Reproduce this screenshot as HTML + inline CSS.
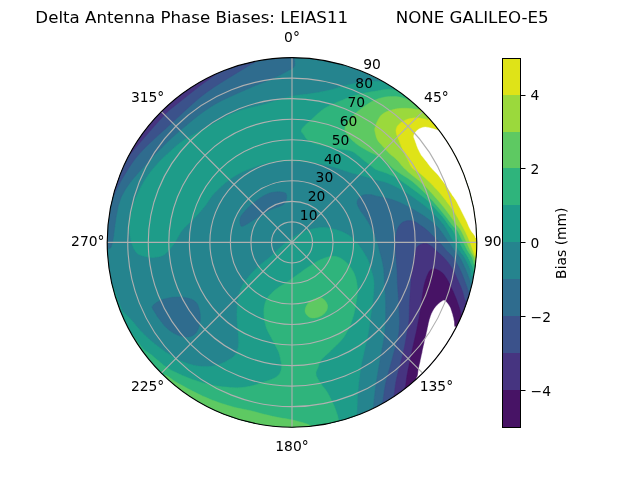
<!DOCTYPE html>
<html><head><meta charset="utf-8"><title>Delta Antenna Phase Biases</title>
<style>html,body{margin:0;padding:0;background:#fff}body{width:640px;height:480px;overflow:hidden}</style></head>
<body>
<svg width="640" height="480" viewBox="0 0 640 480" style="display:block">
<defs><clipPath id="c"><circle cx="292" cy="242.4" r="184.8"/></clipPath></defs>
<rect width="640" height="480" fill="#fff"/>
<g clip-path="url(#c)">
<rect x="100" y="50" width="390" height="390" fill="#25848e"/>
<path d="M145.0 256.5L143.4 256.1L141.9 255.7L140.5 255.3L139.2 254.7L138.0 254.0L137.0 253.2L136.1 252.3L135.3 251.2L134.7 250.1L134.0 249.0L133.4 247.9L132.9 246.7L132.4 245.5L131.9 244.1L131.5 242.5L131.0 240.7L130.6 238.7L130.2 236.5L129.8 234.3L129.5 232.0L129.2 229.7L128.9 227.5L128.6 225.1L128.6 222.4L128.9 219.5L129.6 216.1L130.6 212.3L131.8 208.3L133.2 204.3L134.7 200.3L136.5 196.2L138.4 192.0L140.5 187.8L142.7 183.8L144.9 180.0L147.2 176.5L149.5 173.3L151.9 170.2L154.3 167.3L156.9 164.4L159.5 161.5L162.3 158.7L165.1 156.0L167.9 153.5L170.6 151.0L173.3 148.6L175.9 146.3L178.5 144.1L181.2 142.0L184.0 139.9L186.7 138.2L189.3 136.7L192.1 135.2L195.5 133.4L200.0 131.0L205.9 127.7L213.0 123.8L220.7 119.6L228.2 115.6L235.0 112.5L241.1 110.2L247.0 108.5L252.6 107.2L257.6 106.1L262.0 105.0L265.4 104.0L268.0 103.2L270.1 102.5L272.3 101.8L275.0 101.0L278.2 100.0L281.7 98.9L285.3 97.8L288.9 96.8L292.5 96.0L296.0 95.4L299.4 95.0L302.8 94.6L306.3 94.3L310.0 93.8L314.0 93.1L318.2 92.4L322.4 91.6L326.4 90.8L330.0 90.0L332.9 89.2L335.3 88.5L337.5 87.8L339.8 87.0L342.5 86.2L345.7 85.5L349.1 84.6L352.8 83.8L356.4 83.1L360.0 82.5L363.5 82.0L367.1 81.6L370.7 81.3L374.2 81.2L377.5 81.2L380.6 81.6L383.7 82.1L386.6 82.8L389.4 83.6L392.0 84.5L394.4 85.4L396.7 86.4L398.8 87.5L400.9 88.7L403.0 90.0L405.1 91.7L407.3 93.8L409.4 95.9L411.4 97.3L413.4 97.7L415.3 96.3L417.0 93.5L418.7 90.3L420.6 87.7L422.7 86.7L425.1 87.6L427.7 89.8L430.5 92.8L433.3 96.0L436.0 98.9L438.5 101.5L441.0 104.1L443.4 106.8L445.8 109.5L448.1 112.2L450.4 115.0L452.7 117.9L454.9 120.7L457.0 123.6L459.1 126.6L461.1 129.6L463.1 132.6L465.0 135.7L466.9 138.8L468.7 141.9L470.4 145.0L472.1 148.2L473.8 151.4L475.4 154.7L476.9 158.0L478.4 161.3L479.8 164.6L481.1 167.9L482.4 171.3L483.7 174.7L484.8 178.1L486.0 181.5L487.0 185.0L488.0 188.5L488.9 192.0L489.8 195.5L490.6 199.0L491.3 202.5L492.0 206.1L492.6 209.6L493.2 213.2L493.7 216.8L494.1 220.4L494.4 224.0L494.7 227.6L495.0 231.2L495.1 234.8L495.2 238.4L495.3 242.0L495.3 245.6L495.4 249.5L495.6 253.8L495.6 257.8L495.3 261.3L494.2 263.6L492.0 264.3L489.1 263.7L485.7 262.6L482.5 261.8L479.9 262.1L477.8 264.3L476.1 267.7L474.6 271.4L473.3 274.6L472.2 276.2L471.5 276.2L471.1 275.0L470.9 273.1L470.6 270.8L470.0 268.8L469.1 266.7L468.0 264.3L466.8 261.9L465.6 259.6L464.4 257.5L463.3 255.8L462.2 254.4L461.1 253.0L459.9 251.6L458.8 250.0L457.5 248.2L456.3 246.2L455.0 244.1L453.7 242.0L452.5 240.0L451.3 238.0L450.2 235.9L449.0 233.8L447.9 231.8L446.9 230.0L446.0 228.4L445.1 227.0L444.3 225.7L443.3 224.4L442.2 223.0L441.0 221.5L439.5 219.8L438.0 218.2L436.4 216.5L434.8 214.9L433.1 213.3L431.4 211.6L429.6 210.0L427.9 208.3L426.0 206.8L424.1 205.2L422.1 203.7L420.1 202.2L418.0 200.7L416.0 199.2L414.0 197.8L412.0 196.4L410.0 195.0L408.0 193.7L406.0 192.4L404.0 191.2L402.0 190.0L400.0 188.9L398.0 187.8L396.0 186.8L394.0 185.8L392.0 184.8L390.0 183.9L388.0 183.1L386.0 182.4L384.0 181.8L382.1 181.3L380.2 180.9L378.2 180.5L376.0 179.9L373.6 179.2L371.0 178.4L368.3 177.6L365.6 176.8L363.0 176.0L360.5 175.3L358.1 174.7L355.7 174.1L353.0 173.4L350.0 172.5L346.4 171.3L342.5 170.0L338.3 168.5L334.1 167.2L330.0 166.0L326.0 165.1L321.9 164.3L317.9 163.6L313.9 163.0L310.0 162.5L306.3 162.1L302.8 161.7L299.4 161.5L295.8 161.3L292.0 161.2L287.8 161.3L283.4 161.3L278.8 161.5L274.3 161.9L270.0 162.5L265.8 163.4L261.7 164.5L257.7 165.8L253.8 167.3L250.0 168.8L246.3 170.2L242.8 171.8L239.4 173.4L236.0 175.3L232.5 177.5L228.9 180.1L225.1 183.1L221.5 186.3L218.0 189.5L215.0 192.5L212.5 195.3L210.5 198.1L208.6 200.8L206.9 203.5L205.0 206.0L203.0 208.4L201.1 210.7L199.2 212.9L197.2 215.2L195.0 217.5L192.6 219.9L189.9 222.4L187.3 225.0L184.7 227.5L182.5 230.0L180.6 232.6L179.0 235.4L177.5 238.0L176.2 240.5L175.0 242.5L174.1 243.9L173.4 244.9L172.8 245.7L172.2 246.5L171.2 247.5L170.0 248.9L168.6 250.6L167.1 252.2L165.5 253.8L163.8 255.0L161.9 255.9L159.9 256.5L157.8 257.0L155.7 257.3L153.8 257.5L151.9 257.5L150.1 257.4L148.3 257.2L146.6 256.9Z" fill="#1e9c89" stroke="#1e9c89" stroke-width="0.4"/>
<path d="M292.5 237.5L295.0 236.0L297.4 234.6L299.8 233.4L302.3 232.3L305.0 231.2L307.9 230.3L310.9 229.3L314.1 228.5L317.1 227.9L320.0 227.5L322.7 227.4L325.2 227.5L327.7 227.8L330.1 228.3L332.5 228.8L334.9 229.3L337.2 230.0L339.5 230.8L341.7 231.6L343.8 232.5L345.7 233.5L347.6 234.5L349.3 235.6L350.9 236.8L352.5 238.0L353.9 239.3L355.2 240.7L356.5 242.1L357.6 243.5L358.8 245.0L359.8 246.5L360.9 248.0L361.9 249.5L362.8 251.0L363.8 252.5L364.7 254.0L365.6 255.4L366.4 256.8L367.2 258.3L368.0 260.0L368.7 261.8L369.4 263.7L370.0 265.7L370.6 267.8L371.2 270.0L371.9 272.3L372.6 274.6L373.2 277.0L373.7 279.6L374.0 282.5L374.1 285.7L373.9 289.1L373.7 292.8L373.4 296.4L373.0 300.0L372.6 303.5L372.1 307.0L371.6 310.5L371.0 314.0L370.5 317.5L370.0 321.0L369.6 324.5L369.1 328.0L368.6 331.5L368.0 335.0L367.3 338.5L366.5 342.0L365.6 345.5L364.8 349.0L364.0 352.5L363.3 355.9L362.5 359.3L361.8 362.7L361.1 366.3L360.5 370.0L359.9 374.0L359.4 378.2L358.8 382.6L358.4 386.9L358.0 391.0L357.7 395.1L357.4 399.3L357.3 403.4L357.1 407.0L357.0 410.0L356.9 412.1L356.8 413.4L356.7 414.4L356.8 415.4L357.0 417.0L357.7 419.2L358.9 421.8L360.1 424.5L360.6 427.2L360.1 429.6L358.3 431.7L355.4 433.7L351.9 435.6L348.2 437.3L344.6 438.8L341.2 439.9L337.6 440.8L334.0 441.5L330.4 442.1L326.7 442.7L323.1 443.3L319.5 443.8L315.8 444.3L312.2 444.7L308.5 445.0L304.9 445.3L301.2 445.5L297.6 445.6L293.9 445.7L290.2 445.7L286.6 445.6L282.9 445.5L279.2 445.3L275.6 445.0L271.9 444.7L268.3 444.3L264.6 443.8L261.0 443.3L257.4 442.7L253.8 442.1L250.2 441.3L246.6 440.5L243.1 439.7L239.5 438.8L236.0 437.8L232.5 436.8L229.0 435.7L225.5 434.5L222.0 433.3L218.6 432.0L215.2 430.6L211.8 429.2L208.5 427.7L205.1 426.2L201.8 424.6L198.6 422.9L195.3 421.2L192.1 419.4L188.9 417.6L185.8 415.7L182.7 413.8L179.6 411.8L176.6 409.7L173.6 407.6L170.6 405.5L167.7 403.2L164.8 401.0L162.0 398.7L159.2 396.3L156.4 393.9L153.7 391.4L151.0 388.9L148.4 386.3L145.9 383.7L143.3 381.0L140.9 378.3L138.4 375.6L136.1 372.8L133.7 370.0L131.4 367.1L129.2 364.2L127.1 361.2L124.9 358.2L122.9 355.2L120.9 352.1L118.9 349.0L117.0 345.9L115.2 342.7L113.4 339.5L111.7 336.3L110.0 333.0L108.4 329.7L106.9 326.4L105.4 323.0L104.0 319.6L102.6 316.2L101.3 312.8L100.1 309.4L98.9 305.9L97.8 302.4L96.4 298.7L94.9 294.8L93.5 291.0L92.8 287.5L93.2 284.7L95.0 282.1L98.1 279.6L101.7 277.7L105.4 277.0L108.6 278.1L111.3 281.8L113.9 287.8L116.4 294.7L118.6 301.3L120.3 306.0L121.4 308.6L121.9 309.9L122.2 310.5L122.6 311.0L123.4 311.9L124.7 313.3L126.2 314.8L127.9 316.4L129.6 318.0L131.2 319.7L132.8 321.5L134.3 323.3L135.8 325.2L137.3 327.1L139.0 329.0L140.7 330.9L142.6 332.8L144.4 334.7L146.4 336.5L148.4 338.4L150.5 340.3L152.7 342.1L154.9 344.0L157.2 345.8L159.4 347.5L161.6 349.1L163.8 350.7L165.9 352.2L168.1 353.6L170.3 355.0L172.5 356.3L174.6 357.6L176.8 358.8L179.0 359.9L181.2 361.0L183.7 362.0L186.1 362.9L188.7 363.8L191.2 364.6L193.8 365.2L196.3 365.7L198.8 366.1L201.4 366.4L203.8 366.6L206.2 366.6L208.6 366.5L210.8 366.3L213.0 366.0L215.1 365.5L217.2 365.0L219.2 364.4L221.1 363.6L223.0 362.8L224.8 361.9L226.6 361.0L228.3 360.0L230.0 359.1L231.7 358.0L233.1 356.9L234.4 355.6L235.4 354.2L236.3 352.7L237.0 351.2L237.5 349.5L238.0 347.8L238.3 346.1L238.5 344.4L238.6 342.6L238.6 340.5L238.5 338.0L238.3 334.9L237.9 331.4L237.6 327.6L237.2 323.7L237.0 320.0L236.9 316.4L236.9 312.8L237.0 309.3L237.2 305.8L237.5 302.5L238.0 299.3L238.5 296.2L239.2 293.2L240.1 290.3L241.2 287.5L242.7 284.8L244.3 282.2L246.2 279.7L248.1 277.3L250.0 275.0L251.9 272.8L253.9 270.7L255.9 268.7L258.0 266.8L260.0 265.0L262.0 263.3L264.0 261.7L266.0 260.2L268.0 258.7L270.0 257.0L272.0 255.2L273.9 253.3L275.8 251.4L277.8 249.5L280.0 247.5L282.3 245.5L284.8 243.4L287.4 241.3L290.0 239.3Z" fill="#1e9c89" stroke="#1e9c89" stroke-width="0.4"/>
<path d="M103.4 252.3L105.0 251.8L106.1 251.2L106.9 250.5L107.5 249.7L108.3 248.8L109.2 248.3L109.9 248.3L110.6 247.9L111.4 246.2L112.5 242.4L113.7 235.6L114.8 226.5L116.3 216.2L118.3 205.9L121.4 196.7L125.8 188.7L131.3 181.1L137.3 173.9L143.6 167.0L149.7 160.3L155.7 153.8L161.7 147.7L167.7 141.8L173.9 136.1L180.2 130.6L186.5 125.2L192.9 119.9L199.4 114.8L206.1 110.0L212.9 105.5L220.6 101.2L229.0 97.2L237.3 93.5L244.7 90.2L250.5 87.7L254.2 86.1L256.1 85.2L257.2 84.9L258.2 84.5L260.0 83.8L262.6 82.7L265.6 81.5L268.7 80.2L271.8 78.9L274.7 77.6L277.5 76.3L280.2 74.9L282.9 73.6L285.4 72.2L287.5 71.0L289.4 70.0L291.1 69.2L292.5 68.3L293.7 67.3L294.5 65.8L294.8 63.9L294.7 61.5L294.4 58.9L294.0 56.2L293.6 53.5L293.6 50.5L293.8 47.2L293.9 43.9L293.4 41.1L292.0 39.1L289.4 38.3L285.9 38.3L281.8 38.8L277.6 39.4L273.7 39.9L270.0 40.3L266.4 40.7L262.8 41.2L259.1 41.8L255.5 42.4L251.9 43.1L248.3 43.9L244.8 44.7L241.2 45.6L237.7 46.5L234.2 47.5L230.6 48.6L227.2 49.7L223.7 50.9L220.3 52.2L216.8 53.5L213.4 54.9L210.1 56.4L206.7 57.9L203.4 59.4L200.1 61.1L196.9 62.7L193.7 64.5L190.5 66.3L187.3 68.2L184.2 70.1L181.1 72.0L178.0 74.1L175.0 76.2L172.0 78.3L169.1 80.5L166.2 82.7L163.3 85.0L160.5 87.4L157.7 89.8L155.0 92.2L152.3 94.7L149.7 97.2L147.1 99.8L144.5 102.5L142.0 105.2L139.6 107.9L137.2 110.7L134.8 113.5L132.5 116.3L130.3 119.2L128.1 122.2L126.0 125.1L123.9 128.1L121.8 131.2L119.9 134.3L117.9 137.4L116.1 140.6L114.3 143.7L112.5 147.0L110.8 150.2L109.2 153.5L107.6 156.8L106.1 160.2L104.6 163.5L103.3 166.9L101.9 170.3L100.7 173.8L99.5 177.2L98.3 180.7L97.2 184.2L96.2 187.7L95.3 191.3L94.4 194.8L93.5 198.4L92.8 202.0L92.1 205.6L91.4 209.2L90.9 212.8L90.4 216.5L89.9 220.1L89.6 223.7L89.3 227.4L89.0 231.1L88.9 234.7L88.6 238.7L88.1 243.0L87.8 247.1L88.0 250.6L89.0 253.0L91.1 254.2L94.2 254.2L97.6 253.7L100.9 252.9Z" fill="#2f6c8e" stroke="#2f6c8e" stroke-width="0.4"/>
<path d="M107.9 199.9L109.4 200.1L110.3 200.1L110.9 199.9L111.6 199.2L112.7 197.7L114.0 195.3L115.5 192.3L117.1 188.6L119.1 184.6L121.4 180.3L124.1 175.7L127.1 170.7L130.5 165.4L134.4 159.8L139.1 154.1L144.7 148.1L151.2 141.8L158.2 135.3L165.3 128.9L172.2 122.6L178.8 116.5L185.3 110.4L191.9 104.5L198.7 98.6L205.8 93.0L213.7 87.4L222.5 81.8L231.2 76.4L239.0 71.7L245.2 67.9L249.5 65.3L252.3 63.7L254.1 62.7L255.5 61.9L256.7 61.0L257.9 60.1L258.6 59.4L259.0 58.8L259.2 57.9L259.2 56.4L259.3 53.9L259.3 50.5L259.0 47.0L258.3 44.0L256.7 42.2L254.1 41.8L250.6 42.4L246.7 43.6L242.6 45.0L238.9 46.2L235.3 47.2L231.8 48.2L228.4 49.3L224.9 50.5L221.4 51.8L218.0 53.1L214.6 54.4L211.3 55.8L207.9 57.3L204.6 58.9L201.3 60.5L198.1 62.1L194.8 63.8L191.6 65.6L188.5 67.5L185.3 69.3L182.3 71.3L179.2 73.3L176.2 75.4L173.2 77.5L170.2 79.6L167.3 81.8L164.5 84.1L161.6 86.4L158.8 88.8L156.1 91.2L153.4 93.7L150.7 96.2L148.1 98.8L145.6 101.4L143.1 104.0L140.6 106.7L138.2 109.5L135.8 112.3L133.5 115.1L131.2 118.0L129.0 120.9L126.9 123.8L124.8 126.8L122.7 129.9L120.7 132.9L118.8 136.0L116.9 139.2L115.1 142.3L113.3 145.5L111.6 148.8L109.9 152.0L108.3 155.3L106.8 158.6L105.3 162.0L103.9 165.3L102.5 168.7L101.2 172.2L100.0 175.6L98.8 179.1L97.5 182.8L95.9 186.8L94.5 190.6L93.7 194.1L93.9 196.7L95.7 198.3L98.6 199.3L102.1 199.7L105.4 199.8Z" fill="#3b528b" stroke="#3b528b" stroke-width="0.4"/>
<path d="M123.7 156.6L125.1 157.1L125.9 157.4L126.6 157.4L127.4 156.8L128.8 155.6L130.7 153.8L132.9 151.3L135.3 148.3L138.2 144.8L141.5 140.9L145.6 136.2L150.5 130.6L155.6 124.7L160.5 119.3L164.5 114.9L167.4 112.0L169.4 110.1L171.2 108.7L173.4 107.0L176.4 104.6L180.7 101.2L185.8 97.1L191.3 92.7L196.6 88.6L201.1 85.0L205.1 82.1L208.8 79.6L212.0 77.3L214.8 75.3L216.8 73.6L218.1 72.3L218.7 71.5L218.8 70.8L218.6 69.9L218.2 68.5L217.7 66.1L216.9 62.8L215.9 59.5L214.5 56.7L212.6 55.3L210.0 55.4L206.9 56.8L203.4 58.8L199.9 61.0L196.6 62.9L193.4 64.6L190.4 66.4L187.3 68.2L184.3 70.0L181.3 71.9L178.3 73.9L175.4 75.9L172.5 77.9L169.7 80.1L166.8 82.2L164.1 84.4L161.3 86.7L158.6 89.0L156.0 91.3L153.4 93.7L150.8 96.2L148.3 98.7L145.8 101.2L143.3 103.8L140.9 106.4L138.6 109.0L136.3 111.7L134.0 114.5L131.8 117.3L129.7 120.1L127.5 122.9L125.5 125.8L123.5 128.7L121.5 131.7L119.6 134.7L117.4 137.9L115.0 141.2L112.8 144.5L111.2 147.6L110.9 150.1L112.2 152.1L114.8 153.7L118.1 155.0L121.3 156.0Z" fill="#463480" stroke="#463480" stroke-width="0.4"/>
<path d="M240.0 218.8L239.8 220.3L239.9 222.1L240.2 223.9L240.6 225.4L241.2 226.2L242.1 226.5L243.2 226.1L244.5 225.5L245.9 224.7L247.5 223.8L249.2 222.8L251.1 221.6L253.1 220.3L255.3 218.9L257.5 217.5L259.8 216.0L262.3 214.5L264.9 212.9L267.5 211.4L270.0 210.0L272.6 208.8L275.4 207.8L278.1 206.9L280.6 206.0L282.5 205.0L283.9 204.0L284.8 203.1L285.5 202.1L285.9 201.1L286.2 200.0L286.5 198.6L286.7 197.1L286.7 195.5L286.3 194.0L285.5 193.0L284.0 192.4L282.0 192.0L279.6 191.8L277.2 191.8L275.0 192.0L273.0 192.3L271.1 192.6L269.2 193.2L267.2 194.0L265.0 195.0L262.6 196.4L260.0 198.1L257.4 200.0L254.8 201.9L252.5 203.8L250.4 205.5L248.5 207.4L246.7 209.2L245.1 210.9L243.8 212.5L242.6 213.9L241.7 215.1L240.9 216.3L240.3 217.5Z" fill="#2f6c8e" stroke="#2f6c8e" stroke-width="0.4"/>
<path d="M152.5 306.2L153.4 304.9L155.0 303.6L156.8 302.3L159.0 301.0L161.2 300.0L163.7 299.1L166.5 298.4L169.3 297.8L172.2 297.3L175.0 297.0L177.6 296.9L180.3 296.9L182.8 297.2L185.3 297.5L187.5 298.0L189.6 298.6L191.5 299.3L193.3 300.1L194.9 301.2L196.2 302.5L197.4 304.1L198.3 306.1L199.0 308.2L199.6 310.4L200.0 312.5L200.3 314.5L200.4 316.5L200.4 318.5L200.3 320.5L200.0 322.5L199.6 324.6L198.9 326.8L198.2 328.9L197.3 330.9L196.2 332.5L195.1 333.9L193.7 335.0L192.2 335.9L190.6 336.6L188.8 337.0L186.7 337.1L184.5 336.9L182.1 336.4L179.7 335.8L177.5 335.0L175.4 334.1L173.3 332.9L171.3 331.6L169.3 330.2L167.5 328.8L165.8 327.1L164.2 325.4L162.7 323.5L161.3 321.7L160.0 320.0L158.8 318.4L157.7 316.9L156.7 315.4L155.8 313.9L155.0 312.5L154.2 311.2L153.3 309.9L152.6 308.7L152.2 307.5Z" fill="#2f6c8e" stroke="#2f6c8e" stroke-width="0.4"/>
<path d="M373.0 412.0L372.6 410.5L372.6 409.6L372.9 408.9L373.2 407.9L373.5 406.0L373.8 403.1L374.1 399.5L374.6 395.5L375.0 391.4L375.5 387.5L376.0 383.7L376.6 379.9L377.3 376.1L377.9 372.4L378.5 368.8L379.1 365.3L379.7 361.9L380.3 358.6L380.9 355.3L381.5 352.0L382.1 348.6L382.8 345.1L383.4 341.7L384.0 338.3L384.5 335.0L384.8 332.0L385.1 329.1L385.3 326.3L385.4 323.3L385.5 320.0L385.6 316.2L385.6 312.1L385.6 307.9L385.6 303.8L385.5 300.0L385.4 296.7L385.2 293.6L384.9 290.8L384.7 287.9L384.5 285.0L384.3 281.9L384.2 278.6L384.1 275.5L383.9 272.5L383.8 270.0L383.6 268.1L383.3 266.6L383.1 265.3L382.8 264.0L382.5 262.5L382.1 260.7L381.6 258.7L381.1 256.7L380.6 254.6L380.0 252.5L379.4 250.3L378.9 248.1L378.3 245.8L377.6 243.5L376.9 241.2L376.1 239.0L375.3 236.8L374.5 234.5L373.5 232.2L372.5 230.0L371.4 227.7L370.1 225.4L368.8 223.1L367.5 220.8L366.2 218.8L364.9 216.8L363.6 215.0L362.3 213.3L361.0 211.7L360.0 210.0L359.1 208.3L358.2 206.7L357.5 205.1L357.0 203.5L357.0 202.0L357.4 200.5L358.3 199.0L359.4 197.6L360.7 196.4L362.0 195.5L363.4 194.9L365.1 194.6L366.8 194.5L368.5 194.5L370.0 194.5L371.3 194.6L372.4 194.9L373.4 195.2L374.6 195.6L376.0 196.0L377.7 196.4L379.7 196.7L381.8 197.1L383.9 197.5L386.0 198.0L388.0 198.5L390.0 199.1L392.0 199.6L394.0 200.3L396.0 201.0L398.0 201.8L400.0 202.6L402.0 203.6L404.0 204.5L406.0 205.5L408.0 206.5L410.0 207.6L412.0 208.7L414.0 209.8L416.0 211.0L418.0 212.2L420.1 213.5L422.1 214.8L424.1 216.1L426.0 217.4L427.9 218.8L429.8 220.2L431.6 221.6L433.2 222.9L434.8 224.2L436.0 225.4L437.0 226.4L437.9 227.4L438.9 228.6L440.0 230.0L441.3 231.7L442.7 233.7L444.1 235.8L445.6 237.9L447.0 240.0L448.4 242.0L449.9 244.1L451.3 246.2L452.7 248.2L454.0 250.0L455.2 251.6L456.4 253.0L457.5 254.4L458.6 255.8L459.7 257.5L460.9 259.5L462.0 261.8L463.2 264.2L464.3 266.6L465.3 268.8L466.2 270.8L467.0 272.8L467.7 274.6L468.4 276.4L469.0 278.0L469.5 279.4L469.8 280.8L470.1 281.9L470.4 283.0L471.0 283.8L471.7 284.2L472.4 284.4L473.2 284.5L474.4 284.6L476.1 284.9L478.6 285.2L481.9 285.3L485.4 285.7L488.3 286.5L490.1 288.1L490.3 290.7L489.5 294.2L488.1 298.0L486.6 302.0L485.2 305.7L484.0 309.2L482.8 312.6L481.5 316.0L480.1 319.4L478.7 322.8L477.2 326.1L475.7 329.4L474.1 332.7L472.5 336.0L470.7 339.2L469.0 342.4L467.2 345.6L465.3 348.7L463.3 351.8L461.3 354.9L459.3 357.9L457.2 360.9L455.0 363.8L452.8 366.7L450.6 369.6L448.3 372.4L445.9 375.2L443.5 378.0L441.0 380.7L438.5 383.3L436.0 385.9L433.4 388.5L430.7 391.0L428.0 393.5L425.3 395.9L422.5 398.3L419.7 400.6L416.8 402.8L413.9 405.1L411.0 407.2L408.0 409.3L405.0 411.4L401.9 413.4L398.8 415.3L395.7 417.2L392.4 419.4L388.9 421.9L385.4 424.1L382.2 425.6L379.6 425.8L377.6 424.4L375.9 421.5L374.7 418.0L373.7 414.6Z" fill="#2f6c8e" stroke="#2f6c8e" stroke-width="0.4"/>
<path d="M382.5 407.0L382.1 405.4L382.0 404.4L382.3 403.6L382.6 402.4L383.0 400.6L383.3 397.9L383.8 394.5L384.3 390.9L384.9 387.2L385.5 383.8L386.2 380.7L387.0 377.7L387.8 374.8L388.6 371.8L389.5 368.8L390.4 365.5L391.3 362.2L392.2 358.8L393.1 355.4L394.0 352.0L395.0 348.6L396.0 345.1L397.0 341.7L397.8 338.3L398.5 335.0L399.0 332.0L399.2 329.1L399.4 326.3L399.5 323.3L399.5 320.0L399.4 316.2L399.2 312.1L399.0 307.9L398.7 303.8L398.5 300.0L398.3 296.7L398.1 293.6L397.9 290.8L397.7 287.9L397.5 285.0L397.4 282.1L397.3 279.2L397.2 276.4L397.2 273.3L397.0 270.0L396.7 266.2L396.4 262.1L396.0 257.9L395.7 253.8L395.5 250.0L395.4 246.6L395.4 243.4L395.5 240.3L395.7 237.5L396.0 235.0L396.4 232.7L396.9 230.8L397.5 229.0L398.2 227.4L399.0 226.0L400.0 224.7L401.1 223.6L402.3 222.6L403.6 221.8L405.0 221.2L406.5 220.8L408.1 220.6L409.8 220.6L411.4 220.7L413.0 221.0L414.5 221.5L415.9 222.2L417.3 223.1L418.6 224.1L420.0 225.0L421.4 225.9L422.8 226.8L424.1 227.8L425.5 228.9L426.9 230.0L428.3 231.3L429.8 232.7L431.2 234.2L432.6 235.6L434.0 237.0L435.3 238.2L436.5 239.4L437.7 240.6L438.8 241.8L440.0 243.0L441.2 244.3L442.4 245.7L443.5 247.1L444.7 248.6L446.0 250.0L447.3 251.4L448.7 252.8L450.2 254.2L451.6 255.8L453.0 257.5L454.4 259.5L455.8 261.7L457.2 264.1L458.5 266.4L459.7 268.8L460.8 271.0L461.8 273.3L462.7 275.6L463.6 277.8L464.4 280.0L465.2 282.2L466.0 284.6L466.8 286.8L467.5 288.7L468.0 290.3L468.3 291.3L468.4 292.0L468.5 292.4L468.6 292.7L469.0 293.0L469.5 293.3L470.1 293.6L470.9 293.8L472.0 294.0L473.6 294.5L476.1 294.9L479.4 295.3L482.8 295.8L485.7 296.8L487.4 298.4L487.5 301.0L486.6 304.3L485.1 308.0L483.3 311.8L481.8 315.3L480.4 318.6L479.1 321.9L477.7 325.2L476.2 328.4L474.6 331.7L473.0 334.8L471.4 338.0L469.7 341.1L467.9 344.2L466.1 347.3L464.3 350.3L462.3 353.3L460.4 356.3L458.3 359.2L456.3 362.1L454.2 365.0L452.0 367.8L449.8 370.6L447.5 373.4L445.2 376.1L442.8 378.7L440.4 381.3L437.9 383.9L435.4 386.5L432.9 389.0L430.3 391.4L427.7 393.8L425.0 396.2L422.3 398.5L419.5 400.7L416.7 402.9L413.9 405.1L411.0 407.2L408.1 409.3L405.2 411.3L402.0 413.6L398.8 416.2L395.5 418.5L392.5 420.2L389.9 420.5L387.8 419.2L386.0 416.4L384.5 413.0L383.4 409.6Z" fill="#3b528b" stroke="#3b528b" stroke-width="0.4"/>
<path d="M394.0 399.0L393.5 397.4L393.4 396.4L393.7 395.5L394.1 394.5L394.4 393.0L394.6 390.9L394.9 388.4L395.3 385.7L395.7 382.8L396.2 380.0L396.9 377.1L397.6 374.1L398.4 371.1L399.2 368.0L400.0 365.0L400.8 362.0L401.5 359.0L402.3 356.0L403.1 353.0L403.8 350.0L404.4 347.0L405.0 344.0L405.5 341.0L406.1 338.0L406.6 335.0L407.1 332.0L407.7 329.1L408.2 326.2L408.6 323.2L409.0 320.0L409.2 316.6L409.3 313.1L409.4 309.4L409.4 305.9L409.5 302.5L409.7 299.3L409.9 296.2L410.1 293.2L410.3 290.3L410.5 287.5L410.7 284.8L410.9 282.1L411.0 279.6L411.2 277.0L411.5 274.4L411.8 271.7L412.3 268.9L412.7 266.2L413.1 263.6L413.5 261.2L413.8 259.2L414.1 257.3L414.3 255.6L414.6 254.0L415.0 252.5L415.4 251.0L415.9 249.5L416.4 248.2L417.1 247.0L418.0 246.0L419.2 245.2L420.6 244.5L422.1 243.9L423.6 243.6L425.0 243.5L426.3 243.6L427.5 244.0L428.7 244.6L429.9 245.3L431.0 246.0L432.0 246.7L432.9 247.5L433.8 248.4L434.8 249.4L436.0 250.5L437.4 251.7L438.9 253.0L440.5 254.4L442.2 255.9L443.8 257.5L445.3 259.2L446.9 261.0L448.4 262.9L449.9 264.9L451.2 266.9L452.5 269.0L453.6 271.1L454.7 273.3L455.8 275.6L456.9 278.0L458.1 280.6L459.3 283.3L460.5 286.1L461.6 288.8L462.5 291.2L463.2 293.5L463.7 295.6L464.1 297.6L464.6 299.3L465.3 300.6L466.1 301.4L467.0 301.7L468.1 301.8L469.4 301.9L471.1 302.3L473.7 302.9L477.0 303.3L480.4 304.0L483.2 305.1L484.8 306.9L484.7 309.7L483.5 313.2L481.7 317.2L479.6 321.2L477.7 325.0L476.1 328.6L474.4 332.1L472.7 335.6L470.8 339.0L469.0 342.4L467.0 345.8L465.0 349.1L462.9 352.4L460.8 355.7L458.6 358.9L456.3 362.1L454.0 365.2L451.6 368.3L449.2 371.3L446.7 374.3L444.1 377.2L441.5 380.1L438.8 383.0L436.1 385.8L433.4 388.5L430.5 391.2L427.7 393.8L424.7 396.4L421.7 398.9L418.7 401.3L415.5 404.1L412.2 407.2L408.8 410.1L405.7 412.1L402.9 412.7L400.6 411.5L398.4 408.7L396.6 405.1L395.1 401.7Z" fill="#463480" stroke="#463480" stroke-width="0.4"/>
<path d="M405.0 391.0L404.4 389.5L404.4 388.6L404.8 387.9L405.2 387.0L405.6 385.6L405.9 383.5L406.2 380.9L406.6 378.1L407.0 375.2L407.5 372.5L408.0 369.9L408.6 367.3L409.1 364.6L409.7 362.0L410.3 359.4L410.8 356.8L411.4 354.1L411.9 351.5L412.4 348.9L413.0 346.2L413.6 343.6L414.2 340.9L414.8 338.3L415.4 335.6L416.0 333.0L416.6 330.3L417.1 327.6L417.6 325.0L418.1 322.4L418.6 320.0L419.0 317.9L419.3 315.9L419.6 314.1L420.0 312.2L420.3 310.0L420.7 307.5L421.1 304.9L421.4 302.2L421.8 299.5L422.2 296.9L422.5 294.5L422.9 292.2L423.2 289.9L423.6 287.7L424.0 285.6L424.5 283.5L425.1 281.5L425.7 279.6L426.3 277.9L426.9 276.2L427.5 274.8L428.1 273.5L428.7 272.3L429.3 271.3L430.0 270.5L430.7 269.8L431.5 269.2L432.4 268.9L433.3 268.7L434.4 268.8L435.7 269.1L437.3 269.7L438.9 270.5L440.5 271.4L441.9 272.5L443.2 273.7L444.3 275.1L445.4 276.7L446.5 278.3L447.5 280.0L448.5 281.7L449.4 283.5L450.4 285.4L451.3 287.4L452.2 289.4L453.2 291.5L454.1 293.7L455.1 296.0L456.0 298.3L456.9 300.6L457.7 303.0L458.6 305.5L459.4 307.9L460.0 310.1L460.6 311.9L460.9 313.2L461.0 314.2L461.0 314.9L461.2 315.4L461.6 315.6L462.3 315.4L463.1 314.7L464.2 313.9L465.5 313.3L467.2 313.2L469.7 313.6L472.9 314.2L476.3 315.2L479.0 316.6L480.5 318.6L480.3 321.2L479.0 324.4L477.1 328.0L474.9 331.6L472.9 335.1L471.2 338.3L469.5 341.5L467.7 344.7L465.8 347.8L463.9 350.9L462.0 353.9L459.9 357.0L457.9 359.9L455.7 362.9L453.5 365.8L451.3 368.7L449.0 371.5L446.7 374.3L444.3 377.0L441.9 379.7L439.4 382.4L436.9 385.0L434.3 387.6L431.7 390.1L429.0 392.6L426.2 395.4L423.3 398.5L420.4 401.4L417.6 403.5L415.0 404.2L412.6 403.0L410.2 400.3L408.1 396.9L406.3 393.5Z" fill="#471365" stroke="#471365" stroke-width="0.4"/>
<path d="M417.0 381.0L416.4 379.4L416.5 378.3L416.9 377.3L417.4 376.4L417.8 375.3L418.0 374.1L418.1 373.1L418.2 371.9L418.4 370.5L418.8 368.8L419.2 366.5L419.8 364.0L420.4 361.2L421.0 358.3L421.6 355.6L422.2 352.9L422.7 350.3L423.3 347.6L423.9 345.0L424.4 342.5L424.9 340.1L425.5 337.9L426.0 335.7L426.5 333.5L427.0 331.2L427.5 328.9L428.0 326.6L428.5 324.3L429.0 322.0L429.5 320.0L430.1 318.1L430.6 316.4L431.2 314.8L431.8 313.3L432.5 311.9L433.2 310.6L433.9 309.4L434.6 308.3L435.4 307.3L436.2 306.2L437.2 305.3L438.1 304.3L439.1 303.4L440.1 302.6L441.0 302.0L441.8 301.4L442.5 300.9L443.2 300.5L443.9 300.4L444.7 300.6L445.6 301.2L446.6 302.3L447.6 303.5L448.6 304.9L449.4 306.2L450.1 307.6L450.7 309.1L451.2 310.7L451.7 312.2L452.2 313.8L452.6 315.3L453.0 316.8L453.4 318.4L453.7 319.9L454.0 321.2L454.1 322.6L454.1 324.1L454.2 325.4L454.4 326.4L455.0 326.9L456.0 326.7L457.3 325.8L458.8 324.7L460.5 323.9L462.5 323.7L465.1 324.2L468.4 325.0L471.6 326.2L474.2 327.8L475.5 329.9L475.1 332.7L473.4 336.2L471.0 340.0L468.4 343.8L466.0 347.4L463.9 350.8L461.8 354.2L459.6 357.5L457.3 360.7L454.9 364.0L452.5 367.1L450.0 370.2L447.5 373.3L444.9 376.3L442.3 379.3L439.5 382.6L436.6 386.3L433.6 389.7L430.8 392.3L428.1 393.4L425.5 392.5L422.9 390.0L420.5 386.7L418.4 383.5Z" fill="#ffffff" stroke="#ffffff" stroke-width="0.4"/>
<path d="M335.0 256.2L337.2 256.7L339.2 257.4L341.2 258.4L343.1 259.7L345.0 261.2L346.9 263.0L348.8 265.1L350.7 267.4L352.3 269.9L353.8 272.5L354.9 275.3L355.9 278.2L356.6 281.3L357.1 284.4L357.5 287.5L357.6 290.5L357.5 293.5L357.1 296.5L356.7 299.5L356.2 302.5L355.8 305.5L355.2 308.6L354.5 311.7L353.8 314.7L353.0 317.5L352.1 320.2L351.2 322.8L350.2 325.3L349.1 327.7L348.0 330.0L346.9 332.1L345.8 334.1L344.6 335.9L343.2 337.9L341.5 340.0L339.3 342.4L336.7 345.1L333.9 347.7L331.3 350.3L329.0 352.5L327.1 354.3L325.3 355.8L323.8 357.2L322.4 358.6L321.2 360.0L320.3 361.6L319.6 363.2L319.0 364.8L318.5 366.3L318.0 367.8L317.4 369.1L316.8 370.3L316.3 371.5L316.0 372.7L316.0 374.0L316.3 375.4L316.9 376.9L317.7 378.5L318.6 380.1L319.7 381.9L321.0 383.8L322.6 385.9L324.3 388.0L326.0 390.2L327.5 392.5L328.9 394.9L330.2 397.5L331.5 400.1L332.7 402.6L333.8 405.0L334.7 407.2L335.6 409.4L336.3 411.5L336.9 413.4L337.5 415.0L337.9 416.3L338.1 417.4L338.3 418.2L338.5 419.1L338.8 420.0L339.3 420.8L340.0 421.4L340.6 422.1L341.0 423.2L340.9 424.9L340.3 427.6L339.4 431.2L338.2 435.1L336.5 438.6L334.3 441.2L331.4 442.7L327.9 443.5L324.0 443.8L320.1 443.9L316.3 444.2L312.6 444.6L309.0 445.0L305.4 445.2L301.7 445.4L298.1 445.6L294.4 445.7L290.8 445.7L287.1 445.6L283.5 445.5L279.8 445.3L276.2 445.1L272.6 444.7L268.9 444.4L265.3 443.9L261.7 443.4L258.1 442.8L254.5 442.2L250.9 441.5L247.4 440.7L243.8 439.9L240.3 439.0L236.7 438.0L233.2 437.0L229.8 435.9L226.3 434.8L222.9 433.6L219.4 432.3L216.0 431.0L212.7 429.6L209.3 428.1L206.0 426.6L202.7 425.0L199.4 423.4L196.2 421.7L193.0 419.9L189.8 418.1L186.7 416.3L183.6 414.4L180.5 412.4L177.5 410.4L174.5 408.3L171.5 406.1L168.6 403.9L165.7 401.7L162.9 399.4L160.1 397.1L157.3 394.7L154.6 392.2L152.0 389.7L149.3 387.2L146.8 384.6L144.2 382.0L141.7 379.3L139.3 376.6L136.9 373.8L134.6 371.0L132.3 368.2L130.1 365.3L127.9 362.4L125.8 359.4L123.4 356.4L120.7 353.3L118.3 350.1L116.6 347.0L116.0 344.0L116.8 340.8L118.9 337.1L121.6 333.8L124.5 331.3L127.0 330.1L129.2 330.9L131.5 333.1L133.6 336.1L135.7 339.1L137.5 341.6L139.0 343.4L140.3 345.1L141.4 346.7L142.5 348.1L143.8 349.4L145.1 350.6L146.6 351.6L148.1 352.5L149.6 353.5L151.0 354.5L152.4 355.6L153.7 356.7L155.0 357.9L156.4 359.1L157.8 360.3L159.3 361.5L160.8 362.8L162.3 364.1L163.9 365.4L165.6 366.6L167.3 367.7L169.1 368.8L170.9 369.9L172.9 370.9L175.0 372.0L177.3 373.1L179.8 374.2L182.4 375.4L185.0 376.5L187.5 377.5L190.0 378.5L192.5 379.4L195.0 380.3L197.5 381.1L200.0 381.9L202.5 382.7L205.0 383.4L207.5 384.1L210.0 384.8L212.5 385.3L215.0 385.7L217.5 386.1L220.0 386.4L222.5 386.7L225.0 386.9L227.5 387.1L230.1 387.4L232.6 387.6L235.1 387.7L237.5 387.7L239.7 387.6L241.9 387.5L244.0 387.2L246.0 386.9L248.0 386.6L249.9 386.2L251.8 385.8L253.6 385.3L255.4 384.8L257.2 384.2L259.1 383.6L261.0 383.0L262.9 382.3L264.8 381.6L266.6 381.0L268.3 380.4L270.0 379.9L271.5 379.3L273.0 378.7L274.4 378.0L275.7 377.2L276.9 376.4L278.0 375.4L279.0 374.4L279.8 373.3L280.4 372.0L280.9 370.6L281.3 369.1L281.5 367.6L281.6 366.2L281.6 365.0L281.4 363.8L281.2 362.6L280.9 361.3L280.6 360.0L280.4 358.7L280.1 357.3L279.8 355.9L279.4 354.3L278.8 352.5L277.8 350.3L276.6 347.9L275.2 345.2L273.8 342.6L272.5 340.0L271.2 337.5L269.8 335.1L268.5 332.7L267.3 330.2L266.2 327.5L265.4 324.6L264.7 321.6L264.2 318.4L263.9 315.4L263.8 312.5L263.8 309.8L264.1 307.2L264.6 304.7L265.3 302.3L266.2 300.0L267.5 297.8L269.0 295.8L270.8 293.9L272.8 292.0L275.0 290.0L277.6 288.0L280.4 286.1L283.5 284.2L286.7 282.2L290.0 280.0L293.4 277.6L296.9 275.0L300.6 272.4L304.1 269.8L307.5 267.5L310.7 265.4L313.8 263.4L316.8 261.6L319.7 260.0L322.5 258.8L325.2 257.7L327.8 256.9L330.3 256.4L332.7 256.2Z" fill="#2fb47c" stroke="#2fb47c" stroke-width="0.4"/>
<path d="M305.0 311.2L305.1 309.6L305.5 307.8L306.3 305.9L307.4 304.1L308.8 302.5L310.6 301.1L312.9 299.7L315.4 298.5L317.9 297.7L320.0 297.5L321.8 298.0L323.5 299.1L325.0 300.6L326.2 302.2L327.0 303.8L327.5 305.2L327.6 306.7L327.4 308.3L327.0 309.8L326.2 311.2L325.2 312.6L323.8 313.9L322.2 315.2L320.4 316.2L318.8 317.0L317.0 317.5L315.2 317.9L313.3 318.0L311.5 317.9L310.0 317.5L308.6 316.7L307.3 315.6L306.2 314.3L305.4 312.8Z" fill="#5ec962" stroke="#5ec962" stroke-width="0.4"/>
<path d="M159.6 377.1L161.0 376.1L162.1 375.4L163.1 375.0L164.2 374.9L165.6 375.2L167.2 375.9L169.0 377.1L170.9 378.5L172.9 380.0L175.0 381.4L177.3 382.8L179.8 384.2L182.4 385.6L185.0 387.0L187.5 388.4L190.0 389.7L192.5 391.0L195.0 392.3L197.5 393.5L200.0 394.7L202.5 395.9L205.0 397.0L207.5 398.1L210.0 399.2L212.5 400.2L215.0 401.1L217.5 402.0L220.0 402.9L222.5 403.7L225.0 404.5L227.5 405.3L230.0 406.0L232.5 406.7L235.0 407.4L237.5 408.0L240.0 408.5L242.4 409.0L244.8 409.4L247.3 409.9L250.0 410.5L252.9 411.2L255.9 412.0L259.1 412.9L262.1 413.8L265.0 414.5L267.7 415.1L270.2 415.7L272.6 416.3L275.0 416.8L277.5 417.3L280.0 417.8L282.6 418.2L285.2 418.6L287.7 419.0L290.0 419.4L292.1 419.8L294.0 420.3L295.8 420.7L297.6 421.2L299.4 421.7L301.3 422.2L303.3 422.8L305.2 423.4L307.1 424.0L308.8 424.8L310.3 425.5L311.7 426.3L313.0 427.1L314.1 428.3L315.0 429.9L316.0 432.4L317.0 435.6L317.7 438.9L317.8 442.0L316.8 444.2L314.4 445.3L310.9 445.7L306.8 445.7L302.5 445.6L298.6 445.6L294.9 445.7L291.3 445.7L287.6 445.6L283.9 445.5L280.3 445.3L276.7 445.1L273.0 444.8L269.4 444.4L265.7 444.0L262.1 443.5L258.5 442.9L254.9 442.3L251.3 441.6L247.8 440.8L244.2 440.0L240.7 439.1L237.1 438.1L233.6 437.1L230.1 436.0L226.7 434.9L223.2 433.7L219.8 432.4L216.4 431.1L213.0 429.7L209.6 428.2L206.3 426.7L203.0 425.2L199.7 423.5L196.5 421.9L193.3 420.1L190.1 418.3L187.0 416.4L183.9 414.5L180.8 412.6L177.7 410.5L174.7 408.4L171.8 406.3L168.8 404.1L166.0 401.9L163.1 399.6L159.9 397.2L156.5 394.7L153.2 392.2L150.7 389.7L149.5 387.4L150.1 385.1L152.0 382.7L154.7 380.5L157.5 378.6Z" fill="#5ec962" stroke="#5ec962" stroke-width="0.4"/>
<path d="M407.0 92.5L405.8 93.2L404.9 93.3L404.0 92.9L403.0 92.4L401.5 92.0L399.5 91.5L397.1 90.8L394.5 90.1L391.9 89.5L389.4 89.2L387.1 89.2L384.9 89.4L382.7 89.8L380.2 90.3L377.5 90.8L374.4 91.3L370.9 91.8L367.3 92.4L363.6 93.2L360.0 94.0L356.5 95.0L353.0 96.1L349.5 97.3L346.0 98.6L342.5 100.0L338.9 101.4L335.3 102.9L331.7 104.5L328.2 106.2L325.0 108.0L322.1 110.0L319.4 112.2L316.8 114.5L314.4 116.8L312.0 119.0L309.5 121.2L307.0 123.5L304.6 125.7L302.7 127.7L301.5 129.5L301.2 130.9L301.5 132.1L302.3 133.1L303.2 134.0L304.0 135.0L304.6 136.1L305.1 137.1L305.8 138.1L306.5 139.1L307.5 140.0L308.7 140.8L310.1 141.6L311.6 142.2L313.3 142.9L315.0 143.5L316.8 144.1L318.6 144.5L320.5 145.0L322.6 145.5L325.0 146.0L327.7 146.6L330.8 147.2L334.0 147.8L337.2 148.5L340.0 149.0L342.5 149.4L344.9 149.8L347.1 150.1L349.1 150.5L351.0 151.0L352.7 151.7L354.1 152.6L355.5 153.5L356.7 154.5L358.0 155.5L359.3 156.5L360.5 157.5L361.6 158.5L362.8 159.5L364.0 160.5L365.2 161.4L366.4 162.3L367.6 163.2L368.8 164.1L370.0 165.0L371.1 165.9L372.2 166.8L373.3 167.8L374.5 168.7L376.0 169.5L377.7 170.2L379.7 170.9L381.8 171.6L383.9 172.3L386.0 173.0L388.0 173.8L390.0 174.7L392.1 175.5L394.1 176.5L396.0 177.5L397.9 178.6L399.7 179.8L401.4 181.0L403.2 182.2L405.0 183.5L406.8 184.7L408.5 185.9L410.2 187.2L412.0 188.5L414.0 190.0L416.3 191.7L418.7 193.5L421.3 195.5L423.8 197.4L426.0 199.2L428.0 201.0L429.7 202.7L431.4 204.4L433.1 206.2L434.8 208.0L436.5 209.9L438.4 212.0L440.2 214.0L441.9 216.1L443.5 218.0L445.0 219.9L446.3 221.9L447.6 223.7L448.8 225.4L449.8 226.8L450.5 227.6L451.0 228.1L451.4 228.5L451.8 229.0L452.5 230.0L453.4 231.6L454.5 233.5L455.7 235.7L456.9 237.9L458.0 240.0L459.1 242.0L460.2 244.1L461.3 246.2L462.4 248.2L463.4 250.0L464.4 251.6L465.3 253.0L466.2 254.4L467.1 255.9L468.0 257.5L469.0 259.5L470.1 261.7L471.1 264.0L472.1 266.1L472.8 267.8L473.2 269.0L473.3 270.0L473.3 270.6L473.4 271.2L473.8 271.6L474.3 271.9L475.0 271.9L475.8 271.8L477.0 271.8L478.6 272.0L481.0 272.6L484.2 273.7L487.5 274.7L490.6 275.0L492.8 274.2L494.0 271.9L494.5 268.4L494.7 264.3L494.7 260.1L494.8 256.1L495.0 252.5L495.2 248.9L495.3 245.2L495.3 241.6L495.2 238.0L495.1 234.3L494.9 230.7L494.7 227.1L494.4 223.4L494.0 219.8L493.6 216.2L493.1 212.6L492.5 209.0L491.9 205.4L491.2 201.9L490.4 198.3L489.6 194.8L488.7 191.2L487.8 187.7L486.8 184.2L485.7 180.8L484.6 177.3L483.4 173.9L482.1 170.5L480.8 167.1L479.4 163.7L478.0 160.4L476.5 157.1L474.9 153.8L473.3 150.5L471.7 147.3L469.9 144.1L468.1 140.9L466.3 137.8L464.4 134.7L462.4 131.6L460.4 128.6L458.4 125.6L456.2 122.6L454.1 119.7L451.9 116.8L449.6 114.0L447.3 111.2L444.9 108.4L442.5 105.7L440.0 103.1L437.5 100.4L434.9 97.8L432.3 95.3L429.7 92.8L426.9 90.0L423.9 87.0L421.0 84.1L418.2 82.0L415.7 81.1L413.6 82.1L411.7 84.6L410.0 87.7L408.5 90.6Z" fill="#2fb47c" stroke="#2fb47c" stroke-width="0.4"/>
<path d="M414.7 98.8L413.6 99.8L412.9 100.5L412.4 100.9L411.8 101.0L411.0 101.0L410.0 100.8L408.9 100.3L407.7 99.7L406.4 99.0L405.0 98.5L403.4 98.0L401.7 97.5L399.9 97.1L398.0 96.7L396.0 96.5L393.9 96.4L391.7 96.4L389.4 96.5L387.2 96.7L385.0 97.0L382.9 97.4L381.0 97.9L379.0 98.4L377.0 99.2L375.0 100.0L372.9 101.0L370.9 102.1L368.8 103.3L366.6 104.7L364.4 106.2L362.0 108.0L359.5 109.9L357.0 112.0L354.6 114.1L352.5 116.2L350.6 118.4L348.7 120.6L347.1 122.9L345.8 125.0L345.0 127.0L344.8 128.8L345.0 130.4L345.6 131.9L346.4 133.4L347.5 135.0L348.8 136.7L350.5 138.5L352.3 140.4L354.3 142.1L356.2 143.8L358.3 145.3L360.5 146.7L362.7 148.1L364.9 149.3L367.0 150.5L368.9 151.5L370.8 152.4L372.5 153.3L374.3 154.1L376.0 155.0L377.7 155.9L379.5 156.8L381.2 157.8L382.9 158.8L384.5 160.0L386.0 161.4L387.5 162.9L388.9 164.5L390.4 166.0L392.0 167.5L393.7 168.9L395.4 170.2L397.3 171.4L399.1 172.7L401.0 174.0L402.9 175.3L404.9 176.5L407.0 177.7L409.0 179.1L411.0 180.5L413.0 182.1L415.0 183.8L417.0 185.6L419.0 187.4L421.0 189.2L423.0 191.2L425.1 193.2L427.1 195.2L429.1 197.2L431.0 199.2L432.9 201.3L434.6 203.3L436.4 205.3L438.1 207.3L439.8 209.2L441.4 211.2L442.9 213.1L444.4 215.0L445.9 216.8L447.2 218.6L448.6 220.4L450.0 222.2L451.3 223.9L452.5 225.5L453.5 226.8L454.3 227.6L455.0 228.1L455.6 228.4L456.2 229.0L456.9 230.0L457.8 231.6L458.8 233.5L459.9 235.7L460.9 237.9L462.0 240.0L463.0 242.0L464.1 244.1L465.2 246.2L466.2 248.2L467.2 250.0L468.2 251.7L469.2 253.2L470.2 254.6L471.1 256.0L471.9 257.5L472.5 259.1L473.1 260.8L473.5 262.5L474.0 264.0L474.7 265.0L475.4 265.5L476.0 265.6L476.8 265.5L477.9 265.4L479.5 265.4L482.0 266.0L485.1 267.0L488.5 267.8L491.6 268.1L493.8 267.2L494.9 264.8L495.3 261.3L495.3 257.2L495.2 253.0L495.2 249.0L495.3 245.4L495.3 241.7L495.2 238.1L495.1 234.4L494.9 230.8L494.7 227.2L494.4 223.5L494.0 219.9L493.6 216.3L493.1 212.7L492.5 209.1L491.9 205.5L491.2 201.9L490.4 198.3L489.6 194.8L488.7 191.3L487.8 187.7L486.8 184.2L485.7 180.7L484.6 177.3L483.4 173.8L482.1 170.4L480.8 167.0L479.4 163.7L478.0 160.3L476.5 157.0L474.9 153.7L473.3 150.4L471.6 147.2L469.9 144.0L468.1 140.8L466.2 137.7L464.3 134.6L462.4 131.5L460.3 128.5L458.3 125.5L456.2 122.5L454.0 119.6L451.7 116.7L449.5 113.8L447.1 111.0L444.8 108.3L442.3 105.6L439.9 102.9L437.3 100.3L434.7 97.3L431.9 94.1L429.1 91.1L426.4 88.8L424.0 87.8L421.8 88.7L419.7 90.9L417.8 93.9L416.1 96.8Z" fill="#5ec962" stroke="#5ec962" stroke-width="0.4"/>
<path d="M422.0 105.4L421.0 106.7L420.4 107.7L419.9 108.5L419.3 109.0L418.4 109.4L417.1 109.5L415.5 109.3L413.8 109.0L411.9 108.6L410.0 108.4L407.9 108.3L405.7 108.2L403.4 108.2L401.0 108.3L398.8 108.5L396.4 108.8L394.1 109.3L391.7 109.9L389.5 110.5L387.5 111.3L385.7 112.1L384.1 112.9L382.6 113.9L381.3 115.1L380.0 116.5L378.8 118.4L377.6 120.7L376.5 123.1L375.6 125.5L375.0 127.5L374.7 129.1L374.7 130.4L374.9 131.7L375.2 132.8L375.5 134.0L375.8 135.2L376.0 136.4L376.4 137.6L376.9 138.8L377.5 140.0L378.3 141.2L379.2 142.4L380.2 143.5L381.4 144.7L382.5 146.0L383.7 147.3L384.9 148.7L386.2 150.2L387.6 151.6L389.0 153.0L390.5 154.4L392.1 155.8L393.8 157.1L395.4 158.5L397.0 160.0L398.5 161.6L399.9 163.2L401.2 164.9L402.6 166.5L404.0 168.0L405.4 169.3L406.7 170.5L408.0 171.7L409.4 172.9L411.0 174.2L412.8 175.7L414.8 177.3L416.9 178.9L419.0 180.6L421.0 182.4L423.0 184.3L425.1 186.3L427.1 188.3L429.1 190.4L431.0 192.4L432.9 194.4L434.6 196.4L436.4 198.4L438.1 200.4L439.8 202.4L441.4 204.3L442.9 206.2L444.4 208.1L445.9 209.9L447.2 211.8L448.6 213.6L450.0 215.5L451.3 217.4L452.5 219.1L453.5 220.5L454.2 221.5L454.7 222.3L455.0 222.8L455.4 223.5L456.0 224.2L456.8 225.2L457.7 226.2L458.6 227.3L459.6 228.5L460.6 230.0L461.6 231.7L462.6 233.7L463.6 235.8L464.5 237.9L465.5 240.0L466.4 242.1L467.4 244.2L468.3 246.2L469.2 248.2L470.0 250.0L470.8 251.6L471.6 253.0L472.4 254.3L473.1 255.5L473.8 256.6L474.2 257.7L474.5 258.9L474.8 259.9L475.1 260.7L475.6 261.2L476.2 261.4L476.7 261.2L477.4 260.9L478.5 260.6L480.0 260.5L482.5 261.0L485.7 261.9L489.1 262.7L492.2 262.8L494.3 261.9L495.4 259.5L495.8 255.9L495.7 251.8L495.4 247.5L495.3 243.5L495.3 239.8L495.2 236.1L495.0 232.4L494.8 228.7L494.5 225.0L494.2 221.4L493.8 217.7L493.3 214.0L492.7 210.4L492.1 206.8L491.5 203.1L490.7 199.5L489.9 195.9L489.0 192.3L488.1 188.8L487.1 185.2L486.0 181.7L484.9 178.2L483.7 174.7L482.4 171.2L481.1 167.8L479.7 164.3L478.2 161.0L476.7 157.6L475.2 154.2L473.5 150.9L471.9 147.7L470.1 144.4L468.3 141.2L466.4 138.0L464.5 134.9L462.5 131.7L460.5 128.7L458.4 125.6L456.2 122.6L454.0 119.7L451.8 116.7L449.5 113.9L447.1 111.0L444.7 108.2L442.2 105.1L439.6 101.7L436.9 98.5L434.3 96.1L431.9 94.9L429.7 95.6L427.5 97.7L425.4 100.5L423.6 103.3Z" fill="#9bd93c" stroke="#9bd93c" stroke-width="0.4"/>
<path d="M430.2 113.6L429.2 115.2L428.6 116.7L428.4 118.1L428.2 119.2L427.8 120.0L427.4 120.3L427.0 120.1L426.6 119.8L426.0 119.3L425.0 119.0L423.5 118.7L421.7 118.4L419.7 118.1L417.6 117.8L415.6 117.8L413.7 117.9L411.8 118.2L409.9 118.6L408.0 119.1L406.2 119.7L404.6 120.4L402.9 121.3L401.3 122.3L399.9 123.4L398.8 124.4L397.8 125.5L397.1 126.6L396.6 127.7L396.2 128.9L396.0 130.0L395.9 131.1L396.1 132.3L396.3 133.4L396.6 134.6L396.9 135.6L397.2 136.5L397.5 137.4L397.9 138.2L398.3 139.0L398.8 140.0L399.2 141.1L399.6 142.3L400.1 143.5L400.7 144.8L401.2 146.2L401.9 147.8L402.7 149.5L403.5 151.2L404.2 152.9L405.0 154.5L405.7 155.9L406.4 157.2L407.1 158.4L407.8 159.7L408.5 161.0L409.2 162.4L409.7 163.8L410.4 165.2L411.2 166.6L412.2 168.0L413.7 169.2L415.3 170.4L417.2 171.6L419.1 172.8L421.0 174.2L422.9 175.9L425.0 177.8L427.0 179.7L429.1 181.7L431.0 183.6L432.9 185.5L434.6 187.4L436.4 189.2L438.1 191.1L439.8 193.0L441.4 194.9L442.9 196.8L444.4 198.7L445.9 200.6L447.2 202.4L448.6 204.2L450.0 206.1L451.3 207.9L452.5 209.6L453.5 211.0L454.1 211.9L454.5 212.4L454.8 212.8L455.2 213.5L456.0 214.9L457.4 217.3L459.1 220.4L461.0 223.8L462.9 227.1L464.4 230.0L465.6 232.3L466.6 234.4L467.4 236.2L468.2 238.1L469.0 240.0L469.8 242.0L470.6 244.1L471.4 246.2L472.1 248.2L472.8 250.0L473.5 251.8L474.1 253.6L474.7 255.3L475.3 256.6L476.0 257.5L476.7 257.7L477.2 257.3L477.9 256.6L478.9 255.9L480.4 255.6L482.9 255.9L486.1 256.7L489.6 257.4L492.6 257.6L494.8 256.6L495.8 254.1L496.0 250.6L495.8 246.4L495.5 242.1L495.2 238.1L495.1 234.4L494.9 230.7L494.7 227.0L494.4 223.3L494.0 219.6L493.5 215.9L493.0 212.2L492.4 208.6L491.8 204.9L491.1 201.3L490.3 197.7L489.4 194.1L488.5 190.5L487.6 186.9L486.5 183.3L485.4 179.8L484.2 176.3L483.0 172.8L481.7 169.3L480.3 165.9L478.9 162.5L477.4 159.1L475.9 155.7L474.3 152.4L472.6 149.1L470.9 145.8L469.1 142.5L467.2 139.3L465.3 136.2L463.3 133.0L461.3 129.9L459.2 126.8L457.1 123.8L454.9 120.8L452.7 117.9L450.3 114.6L447.9 111.0L445.4 107.6L443.0 105.0L440.7 103.8L438.3 104.2L436.0 106.1L433.7 108.7L431.7 111.4Z" fill="#dfe318" stroke="#dfe318" stroke-width="0.4"/>
<path d="M440.9 126.1L439.7 127.3L439.0 128.2L438.6 129.0L438.3 129.5L438.0 130.0L437.8 130.3L437.8 130.4L437.8 130.3L437.7 130.2L437.2 130.0L436.3 129.7L435.0 129.3L433.5 128.8L432.0 128.4L430.6 128.0L429.3 127.7L428.0 127.4L426.6 127.2L425.3 127.1L424.0 127.2L422.6 127.5L421.3 127.9L419.9 128.5L418.6 129.2L417.5 130.0L416.5 131.0L415.6 132.1L414.8 133.3L414.1 134.5L413.8 135.6L413.7 136.6L413.8 137.5L414.2 138.4L414.6 139.4L415.0 140.5L415.4 141.8L415.9 143.1L416.4 144.6L416.9 146.0L417.5 147.5L418.1 149.0L418.9 150.5L419.6 152.1L420.4 153.6L421.2 155.0L422.2 156.3L423.2 157.6L424.2 158.8L425.2 160.0L426.2 161.2L427.2 162.5L428.1 163.8L429.1 165.1L430.1 166.4L431.2 167.8L432.6 169.2L434.0 170.7L435.5 172.2L437.0 173.8L438.5 175.5L440.0 177.4L441.5 179.4L443.1 181.4L444.6 183.5L446.0 185.5L447.4 187.5L448.7 189.5L450.0 191.4L451.2 193.3L452.2 194.9L453.1 196.2L453.9 197.2L454.5 198.2L455.2 199.2L456.0 200.5L456.9 202.1L457.9 204.0L458.9 206.0L460.0 208.0L461.0 210.0L462.0 212.0L463.0 214.0L464.0 216.0L465.0 218.0L466.0 220.0L467.0 222.1L467.9 224.2L468.8 226.4L469.7 228.3L470.6 230.0L471.4 231.3L472.2 232.4L473.0 233.3L473.7 234.2L474.3 235.0L474.8 235.8L475.2 236.6L475.5 237.4L475.9 238.0L476.5 238.5L477.1 238.8L477.6 239.0L478.3 239.1L479.3 239.1L480.9 239.1L483.4 239.4L486.7 240.0L490.1 240.3L493.2 240.1L495.2 238.9L496.0 236.3L496.0 232.7L495.4 228.5L494.7 224.2L494.1 220.1L493.6 216.4L493.1 212.7L492.5 209.0L491.9 205.3L491.1 201.6L490.4 198.0L489.5 194.3L488.6 190.7L487.6 187.0L486.5 183.5L485.4 179.9L484.2 176.3L483.0 172.8L481.7 169.3L480.3 165.8L478.8 162.3L477.3 158.9L475.8 155.5L474.1 152.1L472.4 148.8L470.7 145.5L468.9 142.2L467.0 138.9L465.0 135.7L463.0 132.5L461.0 129.0L458.8 125.2L456.6 121.6L454.4 118.7L452.2 117.2L449.8 117.6L447.3 119.3L444.8 121.8L442.6 124.3Z" fill="#ffffff" stroke="#ffffff" stroke-width="0.4"/>
</g>
<g fill="none" stroke="#b0b0b0" stroke-width="1.11">
<circle cx="292" cy="242.4" r="20.533"/>
<circle cx="292" cy="242.4" r="41.067"/>
<circle cx="292" cy="242.4" r="61.600"/>
<circle cx="292" cy="242.4" r="82.133"/>
<circle cx="292" cy="242.4" r="102.667"/>
<circle cx="292" cy="242.4" r="123.200"/>
<circle cx="292" cy="242.4" r="143.733"/>
<circle cx="292" cy="242.4" r="164.267"/>
<line x1="292" y1="242.4" x2="292.00" y2="57.60"/>
<line x1="292" y1="242.4" x2="422.67" y2="111.73"/>
<line x1="292" y1="242.4" x2="476.80" y2="242.40"/>
<line x1="292" y1="242.4" x2="422.67" y2="373.07"/>
<line x1="292" y1="242.4" x2="292.00" y2="427.20"/>
<line x1="292" y1="242.4" x2="161.33" y2="373.07"/>
<line x1="292" y1="242.4" x2="107.20" y2="242.40"/>
<line x1="292" y1="242.4" x2="161.33" y2="111.73"/>
</g>
<circle cx="292" cy="242.4" r="184.8" fill="none" stroke="#000" stroke-width="1.11"/>
<text x="292" y="42.2" text-anchor="middle" font-family="DejaVu Sans, Liberation Sans, sans-serif" font-size="13.89" fill="#000">0°</text>
<text x="436.4" y="102.2" text-anchor="middle" font-family="DejaVu Sans, Liberation Sans, sans-serif" font-size="13.89" fill="#000">45°</text>
<text x="496.2" y="246.4" text-anchor="middle" font-family="DejaVu Sans, Liberation Sans, sans-serif" font-size="13.89" fill="#000">90°</text>
<text x="436.4" y="391" text-anchor="middle" font-family="DejaVu Sans, Liberation Sans, sans-serif" font-size="13.89" fill="#000">135°</text>
<text x="292" y="450.8" text-anchor="middle" font-family="DejaVu Sans, Liberation Sans, sans-serif" font-size="13.89" fill="#000">180°</text>
<text x="147.6" y="391" text-anchor="middle" font-family="DejaVu Sans, Liberation Sans, sans-serif" font-size="13.89" fill="#000">225°</text>
<text x="87.8" y="246.4" text-anchor="middle" font-family="DejaVu Sans, Liberation Sans, sans-serif" font-size="13.89" fill="#000">270°</text>
<text x="147.6" y="102.2" text-anchor="middle" font-family="DejaVu Sans, Liberation Sans, sans-serif" font-size="13.89" fill="#000">315°</text>
<rect x="502.5" y="390" width="18" height="37.5" fill="#471365"/>
<rect x="502.5" y="353" width="18" height="37" fill="#463480"/>
<rect x="502.5" y="316" width="18" height="37" fill="#3b528b"/>
<rect x="502.5" y="279" width="18" height="37" fill="#2f6c8e"/>
<rect x="502.5" y="242" width="18" height="37" fill="#25848e"/>
<rect x="502.5" y="205" width="18" height="37" fill="#1e9c89"/>
<rect x="502.5" y="168" width="18" height="37" fill="#2fb47c"/>
<rect x="502.5" y="132" width="18" height="36" fill="#5ec962"/>
<rect x="502.5" y="95" width="18" height="37" fill="#9bd93c"/>
<rect x="502.5" y="58.5" width="18" height="36.5" fill="#dfe318"/>
<rect x="502.5" y="58.5" width="18" height="369" fill="none" stroke="#000" stroke-width="1"/>
<line x1="521" y1="390.5" x2="525.5" y2="390.5" stroke="#000" stroke-width="1"/>
<text x="530.6" y="395.54" font-family="DejaVu Sans, Liberation Sans, sans-serif" font-size="13.89" fill="#000">−4</text>
<line x1="521" y1="316.5" x2="525.5" y2="316.5" stroke="#000" stroke-width="1"/>
<text x="530.6" y="321.62" font-family="DejaVu Sans, Liberation Sans, sans-serif" font-size="13.89" fill="#000">−2</text>
<line x1="521" y1="242.5" x2="525.5" y2="242.5" stroke="#000" stroke-width="1"/>
<text x="530.6" y="247.70" font-family="DejaVu Sans, Liberation Sans, sans-serif" font-size="13.89" fill="#000">0</text>
<line x1="521" y1="168.5" x2="525.5" y2="168.5" stroke="#000" stroke-width="1"/>
<text x="530.6" y="173.78" font-family="DejaVu Sans, Liberation Sans, sans-serif" font-size="13.89" fill="#000">2</text>
<line x1="521" y1="95.5" x2="525.5" y2="95.5" stroke="#000" stroke-width="1"/>
<text x="530.6" y="99.86" font-family="DejaVu Sans, Liberation Sans, sans-serif" font-size="13.89" fill="#000">4</text>
<text transform="translate(565.6 243.2) rotate(-90)" text-anchor="middle" font-family="DejaVu Sans, Liberation Sans, sans-serif" font-size="13.89" fill="#000">Bias (mm)</text>
<text x="299.86" y="220.23" font-family="DejaVu Sans, Liberation Sans, sans-serif" font-size="13.89" fill="#000">10</text>
<text x="307.72" y="201.26" font-family="DejaVu Sans, Liberation Sans, sans-serif" font-size="13.89" fill="#000">20</text>
<text x="315.58" y="182.29" font-family="DejaVu Sans, Liberation Sans, sans-serif" font-size="13.89" fill="#000">30</text>
<text x="323.93" y="164.32" font-family="DejaVu Sans, Liberation Sans, sans-serif" font-size="13.89" fill="#000">40</text>
<text x="331.79" y="145.35" font-family="DejaVu Sans, Liberation Sans, sans-serif" font-size="13.89" fill="#000">50</text>
<text x="339.65" y="126.38" font-family="DejaVu Sans, Liberation Sans, sans-serif" font-size="13.89" fill="#000">60</text>
<text x="347.51" y="107.41" font-family="DejaVu Sans, Liberation Sans, sans-serif" font-size="13.89" fill="#000">70</text>
<text x="355.36" y="88.44" font-family="DejaVu Sans, Liberation Sans, sans-serif" font-size="13.89" fill="#000">80</text>
<text x="363.22" y="69.47" font-family="DejaVu Sans, Liberation Sans, sans-serif" font-size="13.89" fill="#000">90</text>
<text x="292" y="22.9" text-anchor="middle" xml:space="preserve" style="white-space:pre" font-family="DejaVu Sans, Liberation Sans, sans-serif" font-size="16.67" fill="#000">Delta Antenna Phase Biases: LEIAS11         NONE GALILEO-E5</text>
</svg>
</body></html>
